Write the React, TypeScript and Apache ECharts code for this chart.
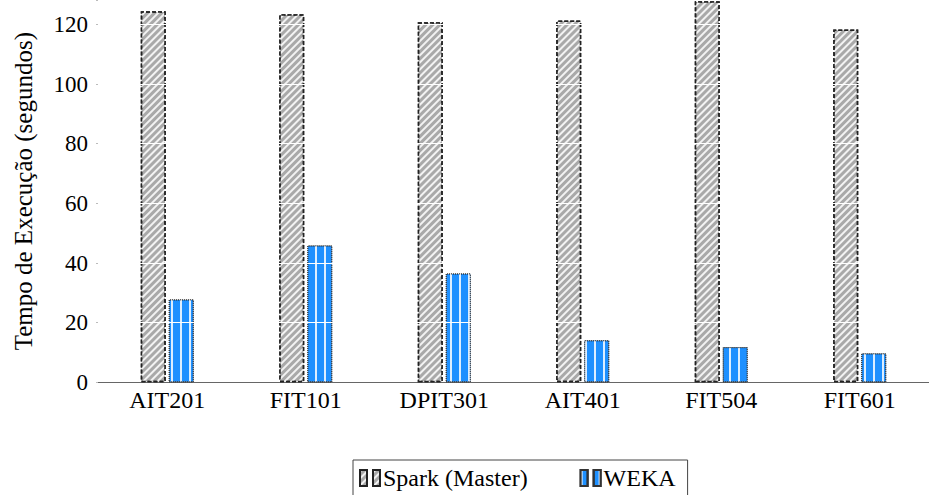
import React, { useEffect, useRef } from "react";
import * as echarts from "echarts";

const categories = ["AIT201", "FIT101", "DPIT301", "AIT401", "FIT504", "FIT601"];
const sparkValues = [124.4, 123.4, 120.7, 121.3, 127.8, 118.3];
const wekaValues = [27.8, 45.9, 36.5, 14.1, 11.8, 9.7];
const gridTicks = [20, 40, 60, 80, 100, 120];
const seriesNames = ["Spark (Master)", "WEKA"];
const yTitle = "Tempo de Execução (segundos)";

const FONT = "Liberation Serif";

export default function App() {
  const ref = useRef<HTMLDivElement>(null);
  useEffect(() => {
    if (!ref.current) return;
    const chart = echarts.init(ref.current, null, { renderer: "svg" });
    const legendIcon = "path://M0,0h7v16h-7z M13,0h7v16h-7z";
    chart.setOption({
      animation: false,
      backgroundColor: "#ffffff",
      textStyle: { fontFamily: FONT },
      grid: { left: 98, top: 0, width: 841, height: 382.3, containLabel: false },
      legend: {
        left: 353,
        top: 460,
        data: seriesNames.map((n) => ({ name: n, icon: legendIcon })),
        itemWidth: 20,
        itemHeight: 16,
        itemGap: 52,
        borderColor: "#444",
        borderWidth: 1,
        borderRadius: 0,
        padding: [6, 12, 24, 6],
        textStyle: { fontFamily: FONT, fontSize: 24, color: "#000", padding: [0, 0, 0, -2] },
      },
      xAxis: {
        type: "category",
        data: categories,
        boundaryGap: true,
        axisLine: { show: true, lineStyle: { color: "#666", width: 1 } },
        axisTick: { show: false },
        axisLabel: { fontFamily: FONT, fontSize: 24, color: "#000", margin: 6 },
        splitLine: { show: false },
      },
      yAxis: {
        type: "value",
        min: 0,
        max: 128.2,
        interval: 20,
        name: yTitle,
        nameLocation: "middle",
        nameRotate: 90,
        nameGap: 62,
        nameTextStyle: { fontFamily: FONT, fontSize: 25, color: "#000" },
        axisLine: { show: false },
        axisTick: { show: true, length: 2, lineStyle: { color: "#bbb", width: 1 } },
        axisLabel: {
          fontFamily: FONT,
          fontSize: 23,
          color: "#000",
          margin: 10,
          formatter: (v: number) => (v % 20 === 0 ? String(v) : ""),
        },
        splitLine: { show: false },
      },
      series: [
        {
          name: seriesNames[0],
          type: "bar",
          data: sparkValues,
          barWidth: 25,
          barGap: "12%",
          itemStyle: {
            color: "#a9a9a9",
            borderColor: "#222",
            borderWidth: 1.5,
            borderType: [4, 2],
            decal: {
              symbol: "rect",
              dashArrayX: [1, 0],
              dashArrayY: [1.2, 2.8],
              rotation: -Math.PI / 4,
              color: "rgba(255,255,255,0.85)",
            },
          },
        },
        {
          name: seriesNames[1],
          type: "bar",
          data: wekaValues,
          barWidth: 25,
          itemStyle: {
            color: "#1e90ff",
            borderColor: "#333",
            borderWidth: 1,
            borderType: "dotted",
            decal: {
              symbol: "rect",
              dashArrayX: [1.3, 6.5],
              dashArrayY: [1, 0],
              color: "rgba(255,255,255,0.85)",
            },
          },
          markLine: {
            silent: true,
            symbol: "none",
            label: { show: false },
            lineStyle: { color: "#ffffff", width: 1, type: "solid" },
            data: gridTicks.map((t) => ({ yAxis: t })),
          },
        },
      ],
    });
    return () => chart.dispose();
  }, []);
  return (
    <div
      ref={ref}
      style={{ position: "fixed", left: 0, top: 0, width: 929, height: 495, background: "#fff" }}
    />
  );
}
